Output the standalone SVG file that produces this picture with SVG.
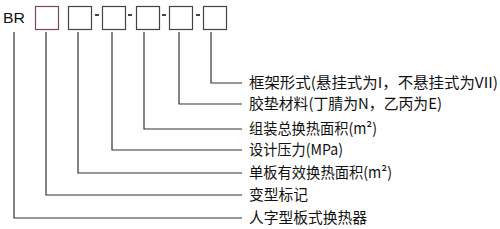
<svg xmlns="http://www.w3.org/2000/svg" width="500" height="229" viewBox="0 0 500 229">
<style>
.box{fill:#fff;stroke:#444;stroke-width:1.2}
.dash{fill:#444}
.ln{fill:none;stroke:#333;stroke-width:1.2}
.t{font-family:"Noto Sans CJK SC","Noto Sans",sans-serif;font-size:15px;fill:#111}
.br{font-family:"Liberation Sans",Arial,sans-serif;font-size:15px;fill:#111}
</style>
<rect width="500" height="229" fill="#fff"/>
<g id="code">
<text class="br" x="3" y="23" textLength="22" lengthAdjust="spacingAndGlyphs">BR</text>
</g>
<g id="box1"><rect class="box" x="35.5" y="6.5" width="23" height="23" style="stroke:#7a4a5c"/></g>
<g id="box2"><rect class="box" x="68.5" y="6.5" width="23" height="23"/></g>
<g id="box3"><rect class="box" x="102.5" y="6.5" width="23" height="23"/></g>
<g id="box4"><rect class="box" x="136.5" y="6.5" width="23" height="23"/></g>
<g id="box5"><rect class="box" x="169.5" y="6.5" width="23" height="23"/></g>
<g id="box6"><rect class="box" x="203.5" y="6.5" width="23" height="23"/></g>
<g id="dashes">
<rect class="dash" x="95" y="14" width="4" height="2"/>
<rect class="dash" x="128" y="14" width="4" height="2"/>
<rect class="dash" x="162" y="14" width="4" height="2"/>
<rect class="dash" x="196" y="14" width="4" height="2"/>
</g>
<g id="connectors">
<polyline class="ln" points="211,32 211,83 242,83"/>
<polyline class="ln" points="179,32 179,104 242,104"/>
<polyline class="ln" points="144,32 144,129 242,129"/>
<polyline class="ln" points="112,32 112,150 242,150"/>
<polyline class="ln" points="78,32 78,173 242,173"/>
<polyline class="ln" points="46,32 46,195 242,195"/>
<polyline class="ln" points="14,32 14,218 242,218"/>
</g>
<g id="labels">
<text class="t" x="249" y="88" textLength="249" lengthAdjust="spacingAndGlyphs">框架形式(悬挂式为I，不悬挂式为VII)</text>
<text class="t" x="249" y="109" textLength="193" lengthAdjust="spacingAndGlyphs">胶垫材料(丁腈为N，乙丙为E)</text>
<text class="t" x="249" y="134" textLength="128" lengthAdjust="spacingAndGlyphs">组装总换热面积(m²)</text>
<text class="t" x="249" y="155" textLength="94" lengthAdjust="spacingAndGlyphs">设计压力(MPa)</text>
<text class="t" x="249" y="178" textLength="143" lengthAdjust="spacingAndGlyphs">单板有效换热面积(m²)</text>
<text class="t" x="249" y="200" textLength="59" lengthAdjust="spacingAndGlyphs">变型标记</text>
<text class="t" x="249" y="223" textLength="118" lengthAdjust="spacingAndGlyphs">人字型板式换热器</text>
</g>
</svg>
